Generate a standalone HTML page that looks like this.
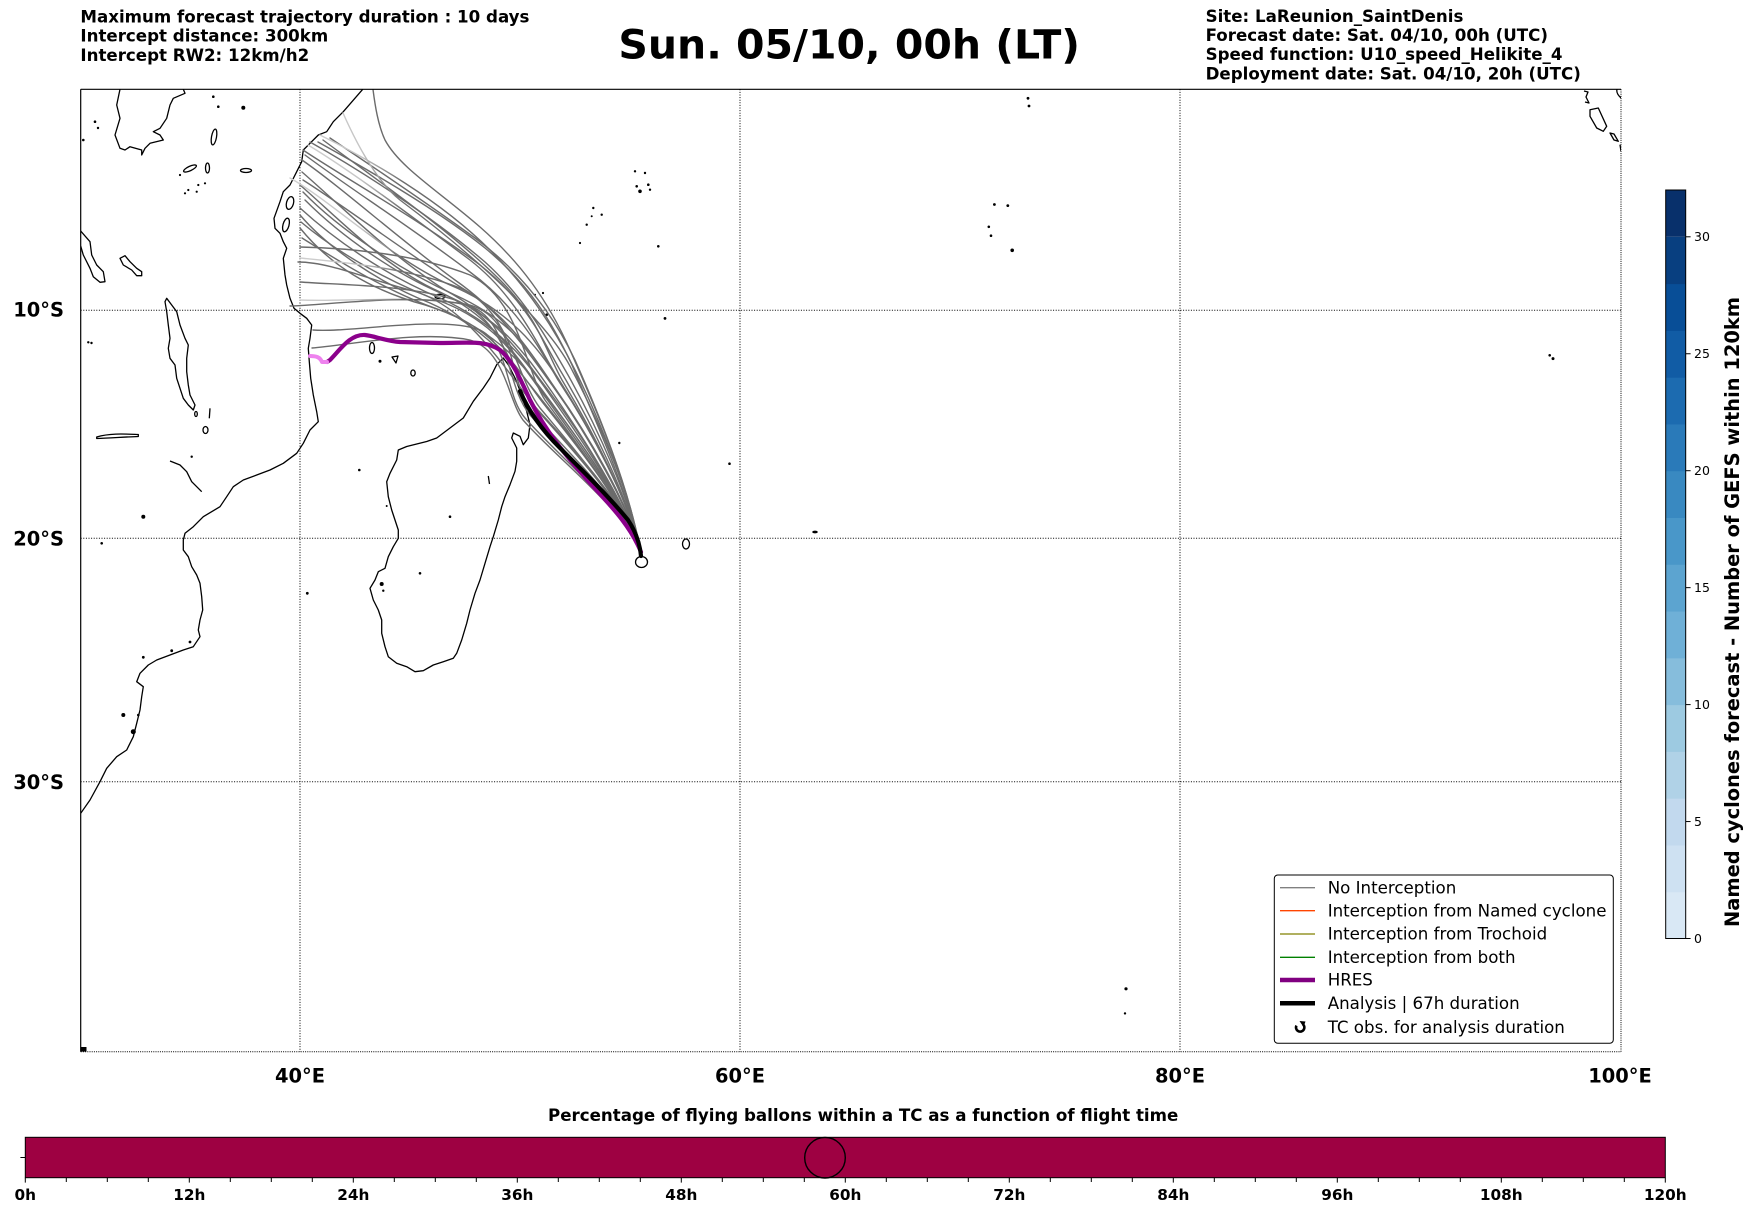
<!DOCTYPE html>
<html>
<head>
<meta charset="utf-8">
<style>
  html, body { margin: 0; padding: 0; background: #ffffff; }
  svg { display: block; }
  text { font-family: "DejaVu Sans", "Liberation Sans", sans-serif; }
</style>
</head>
<body>
<svg width="1752" height="1213" viewBox="0 0 1752 1213" xmlns="http://www.w3.org/2000/svg">
  <defs>
    <linearGradient id="fade" gradientUnits="userSpaceOnUse" x1="300" y1="0" x2="420" y2="0">
      <stop offset="0" stop-color="#cfcfcf"/>
      <stop offset="0.5" stop-color="#c6c6c6"/>
      <stop offset="0.85" stop-color="#6e6e6e"/>
      <stop offset="1" stop-color="#6b6b6b"/>
    </linearGradient>
    <clipPath id="mapclip"><rect x="80.7" y="89.3" width="1540.3" height="962.4"/></clipPath>
  </defs>
  <rect x="0" y="0" width="1752" height="1213" fill="#ffffff"/>

  <!-- Header texts -->
  <g font-weight="bold" font-size="16.67" fill="#000">
    <text x="80.4" y="22.5">Maximum forecast trajectory duration : 10 days</text>
    <text x="80.4" y="41.7">Intercept distance: 300km</text>
    <text x="80.4" y="60.9">Intercept RW2: 12km/h2</text>
    <text x="1205.6" y="21.8">Site: LaReunion_SaintDenis</text>
    <text x="1205.6" y="41.0">Forecast date: Sat. 04/10, 00h (UTC)</text>
    <text x="1205.6" y="60.2">Speed function: U10_speed_Helikite_4</text>
    <text x="1205.6" y="79.4">Deployment date: Sat. 04/10, 20h (UTC)</text>
  </g>
  <text x="849.2" y="58.3" font-weight="bold" font-size="40" text-anchor="middle" textLength="461.7" lengthAdjust="spacingAndGlyphs">Sun. 05/10, 00h (LT)</text>

  <!-- Map -->
  <g clip-path="url(#mapclip)">
    <!-- Gridlines -->
    <g stroke="#000" stroke-width="1" stroke-dasharray="1,1.6" fill="none">
      <line x1="300" y1="89.3" x2="300" y2="1051.7"/>
      <line x1="740" y1="89.3" x2="740" y2="1051.7"/>
      <line x1="1180" y1="89.3" x2="1180" y2="1051.7"/>
      <line x1="80.7" y1="310.3" x2="1621" y2="310.3"/>
      <line x1="80.7" y1="538.3" x2="1621" y2="538.3"/>
      <line x1="80.7" y1="781.7" x2="1621" y2="781.7"/>
    </g>

    <!-- Coastlines -->
    <g stroke="#000" stroke-width="1.3" fill="none" stroke-linejoin="round">
      <!-- Africa -->
      <path d="M362.7,89.3 L343.3,111.7 L333.3,121.7 L326.7,131.7 L318.3,135 L310,143.3 L303.3,150 L301.7,161.7 L296.7,171.7 L290,185 L283.3,191.7 L280,201.7 L274,218.3 L275,228.3 L280,233.3 L283.3,241.7 L286.7,248.3 L283.3,258.3 L285,275 L286.7,285 L290,298.3 L294,308.3 L300,313.3 L306.7,318.3 L311.7,325 L310,338.3 L308.3,348.3 L309.3,361.7 L310.7,378.3 L313.3,395 L316.7,411.7 L318.3,421.7 L310,430 L303.3,443.3 L296.7,453.3 L283.3,463.3 L270,470 L256.7,475 L243.3,480 L233.3,486.7 L226.7,496.7 L220,506.7 L210,512.7 L203.3,516.7 L193.3,526.7 L185,533.3 L183.3,540 L183.3,550 L188.3,556.7 L191.7,566.7 L196.7,575 L200,583.3 L201.7,596.7 L202.7,610 L200,620 L198.3,630 L200,636.7 L193.3,646.7 L183.3,650 L170,655 L156.7,660 L148.3,665 L140,673.3 L136.7,681.7 L143.3,686.7 L141.7,696.7 L140,710 L136.7,723.3 L133.3,736.7 L126.7,750 L116.7,756.7 L106.7,768.3 L100,781.7 L90,800 L80.7,813.3"/>
      <!-- Madagascar -->
      <path d="M503.3,358 L508.3,364.7 L515,378 L521.7,394.7 L526.7,411.3 L530,424.7 L528.3,438 L523.3,444.7 L520,436.3 L513.3,433 L511.7,438 L516.7,448 L516.7,461.3 L515,471.3 L510,484.7 L505,496.7 L501.7,506.7 L498.3,520 L493.3,536.7 L490,546.7 L485,563.3 L480,580 L475,593.3 L470,610 L466.7,623.3 L461.7,640 L456.7,653.3 L453.3,658.3 L443.3,661.7 L433.3,665 L423.3,670.7 L415,671.7 L406.7,666.7 L396.7,663.3 L388.3,656.7 L385,646.7 L381.7,633.3 L381.7,620 L378.3,610 L373.3,600 L370,588.3 L375,580 L378.3,571.7 L385,568.3 L388.3,556.7 L393.3,546.7 L398.3,538.3 L398.3,530 L395,520 L391.7,510 L388.3,496.7 L386.7,481.7 L390,473.3 L396.7,460 L398.3,450 L406.7,446.5 L416.7,444 L426.7,441.5 L436.7,438 L450,428 L463.3,418 L473.3,401.3 L483.3,388 L490,378 L496.7,364.7 Z"/>
      <!-- Lakes -->
      <path d="M120,89.3 L116.7,105 L120,118.3 L115,135 L120,148.3 L125,150 L130,146.7 L141.7,150 L141.7,155 L145,148.3 L150,143.3 L163.3,140 L160,135 L153.3,131.7 L160,128.3 L166.7,118.3 L170,105 L173.3,98.3 L185,93.3 L183.3,89.3"/>
      <path d="M80.7,231 L90,241.7 L91.7,255 L96.7,265 L103.3,271.7 L105,281.7 L100,282.3 L93.3,276.7 L90,268.3 L83.3,255 L80.7,246"/>
      <path d="M120,258.3 L125,255.7 L130,261.7 L136.7,268.3 L141.7,271.7 L141.7,275.7 L136.7,275.7 L131.7,270 L123.3,265 Z"/>
      <path d="M166.7,298.3 L171.7,305 L176.7,311.7 L180,325 L185,338.3 L188.3,345 L186.7,358.3 L186.7,371.7 L188.3,385 L190,395 L195,405 L193.3,410 L188.3,405 L183.3,398.3 L180,388.3 L176.7,378.3 L175,365 L170,358.3 L168.3,348.3 L170,338.3 L168.3,325 L166.7,311.7 L165,301.7 Z"/>
      <path d="M96.7,437 C110,433 125,434 138.3,434.5 L138.3,436.5 C125,437 110,438 96.7,438.5 Z"/>
      <path d="M170,461 L180,465 L186.7,471.7 L191.7,481.7 L201.7,491.7"/>
      <path d="M210,408.3 L209.3,418.3"/>
      <ellipse cx="205.5" cy="430" rx="2.5" ry="3.5"/>
      <ellipse cx="196" cy="414" rx="1.3" ry="2.5"/>
      <ellipse cx="214" cy="137" rx="2.5" ry="8" transform="rotate(10 214 137)"/>
      <ellipse cx="207.5" cy="168" rx="2" ry="5"/>
      <ellipse cx="190" cy="168.5" rx="7" ry="2.2" transform="rotate(-25 190 168.5)"/>
      <ellipse cx="246" cy="170.5" rx="5.5" ry="2"/>
      <!-- Islands (outlined) -->
      <ellipse cx="641.5" cy="562" rx="6" ry="5.5"/>
      <ellipse cx="686" cy="544" rx="3.5" ry="5"/>
      <ellipse cx="372" cy="348" rx="2.5" ry="5.5"/>
      <path d="M392,357 L398,356 L396,363 Z"/>
      <ellipse cx="413" cy="373" rx="2.2" ry="3"/>
      <ellipse cx="440" cy="296.5" rx="5" ry="2.2"/>
      <ellipse cx="290" cy="203" rx="3.5" ry="6.5" transform="rotate(15 290 203)"/>
      <ellipse cx="286" cy="225" rx="3" ry="7" transform="rotate(15 286 225)"/>
      <path d="M1590,109.7 L1598.3,108 L1606.7,126.3 L1603.3,131.3 L1596.7,128 L1590,116.3 Z"/>
      <path d="M1610,133 L1614,134 L1618.3,141.3 L1614,140 Z"/>
      <path d="M1617,89.3 C1616,93 1619,96 1621,98"/>
      <path d="M1620,144.7 L1621,151.3"/>
      <path d="M1584,91 L1588,92 L1586,97 L1589,103 L1585,102"/>
      <path d="M488.3,476 L489.5,484"/>
    </g>

    <!-- Small dot islands -->
    <g fill="#000">
      <circle cx="213.3" cy="96.7" r="1.3"/><circle cx="218.3" cy="106.7" r="1.3"/>
      <circle cx="243.3" cy="107.7" r="2"/><circle cx="95" cy="121.7" r="1.3"/>
      <circle cx="98" cy="128" r="1.2"/><circle cx="83.3" cy="140" r="1.3"/>
      <circle cx="180" cy="175" r="1.1"/><circle cx="185" cy="193.3" r="1.1"/>
      <circle cx="188.3" cy="190" r="1.1"/><circle cx="196.7" cy="191.7" r="1.1"/>
      <circle cx="205" cy="183.3" r="1.1"/><circle cx="198.3" cy="185" r="1.1"/>
      <circle cx="88.3" cy="342.3" r="1.2"/><circle cx="91.5" cy="343" r="1.2"/>
      <circle cx="191.7" cy="456.7" r="1.2"/><circle cx="143.3" cy="516.7" r="2"/>
      <circle cx="101.7" cy="543.3" r="1.3"/><circle cx="143.3" cy="657.3" r="1.4"/>
      <circle cx="171.7" cy="650.7" r="1.4"/><circle cx="190" cy="642" r="1.4"/>
      <circle cx="123.3" cy="715" r="2"/><circle cx="133.3" cy="731.7" r="2.5"/>
      <circle cx="138.3" cy="715" r="1.3"/>
      <circle cx="359.3" cy="470" r="1.3"/><circle cx="386.7" cy="506" r="1"/>
      <circle cx="450" cy="516.7" r="1.3"/><circle cx="420" cy="573.3" r="1.3"/>
      <circle cx="381.7" cy="584" r="2"/><circle cx="383.3" cy="590.7" r="1.2"/>
      <circle cx="307.3" cy="593.3" r="1.4"/><circle cx="619.3" cy="443" r="1.2"/>
      <circle cx="380" cy="361.3" r="1.5"/>
      <circle cx="635" cy="171.3" r="1.2"/><circle cx="645" cy="173" r="1.2"/>
      <circle cx="636.7" cy="186.3" r="1.3"/><circle cx="648.3" cy="184.7" r="1.3"/>
      <circle cx="640" cy="191.3" r="1.8"/><circle cx="650" cy="189.7" r="1.2"/>
      <circle cx="593.3" cy="208" r="1.2"/><circle cx="601.7" cy="214.7" r="1.2"/>
      <circle cx="591.7" cy="216.3" r="1"/><circle cx="586.7" cy="224.7" r="1.2"/>
      <circle cx="580" cy="243" r="1.1"/><circle cx="658.3" cy="246.3" r="1.3"/>
      <circle cx="543" cy="293" r="1.1"/><circle cx="546.7" cy="314.7" r="1.3"/>
      <circle cx="535" cy="294.7" r="1"/>
      <circle cx="665" cy="318.4" r="1.4"/><circle cx="729.5" cy="463.7" r="1.3"/>
      <ellipse cx="815" cy="532" rx="2.8" ry="1.4"/>
      <circle cx="994.4" cy="204.5" r="1.4"/><circle cx="1007.8" cy="205.6" r="1.4"/>
      <circle cx="988.8" cy="226.8" r="1.3"/><circle cx="991" cy="235.7" r="1.3"/>
      <circle cx="1012.2" cy="250.3" r="1.8"/>
      <circle cx="1028" cy="98.3" r="1.4"/><circle cx="1029" cy="106" r="1.4"/>
      <circle cx="1549.7" cy="355.3" r="1.3"/><circle cx="1553" cy="358.6" r="1.5"/>
      <circle cx="1126" cy="988.8" r="1.6"/><circle cx="1125" cy="1013.4" r="1.2"/>
      <rect x="81" y="1047" width="5.5" height="4.7"/>
    </g>

    <!-- Ensemble trajectories -->
    <g fill="none" stroke="#6b6b6b" stroke-width="1.4" stroke-linecap="round">
      <path d="M641,555 C628,480 592,400 570,350 C548,300 520,262 480,227 C440,192 400,168 385,140 C378,125 375,105 373,89.5"/>
      <path d="M641,555 C630,488 595,405 575,360 C555,318 525,275 475,238 C420,198 370,165 330,138"/>
      <path d="M641,555 C630,495 593,415 572,365 C552,322 530,285 485,248 C435,208 365,168 318,142"/>
      <path d="M641,555 C631,500 596,425 568,375 C548,340 525,298 485,262 C430,215 360,170 310,142"/>
      <path d="M641,555 C631,505 592,430 562,380 C545,350 540,320 500,280 C450,230 370,175 323,140"/>
      <path d="M641,555 C630,500 590,420 560,370 C540,335 525,300 480,265 C420,220 340,175 303,150"/>
      <path d="M641,555 C630,502 590,428 558,380 C538,345 515,305 470,272 C415,230 345,185 305,155"/>
      <path d="M641,555 C630,505 585,430 552,385 C530,355 505,315 455,280 C400,240 345,190 302,160"/>
      <path d="M641,555 C629,508 582,435 548,390 C525,360 500,320 445,290 C390,255 340,205 302,172"/>
      <path d="M641,555 C630,507 586,433 553,386 C533,357 512,318 462,288 C405,252 350,210 303,180"/>
      <path d="M641,555 C629,510 580,440 545,395 C520,362 495,318 440,292 C385,268 335,215 300,185"/>
      <path d="M641,555 C630,505 588,435 555,388 C532,355 515,322 455,295 C400,270 340,230 303,192"/>
      <path d="M641,555 C630,510 585,440 552,392 C528,358 505,322 450,297 C395,275 340,235 305,200"/>
      <path d="M641,555 C629,508 582,440 550,395 C528,363 500,325 440,298 C385,275 335,240 300,208"/>
      <path d="M641,555 C629,512 578,445 542,400 C518,370 490,330 430,303 C380,283 330,250 300,215"/>
      <path d="M641,555 C629,510 580,445 546,398 C522,366 500,325 445,303 C395,285 340,255 301,222"/>
      <path d="M641,555 C630,510 583,445 548,398 C522,362 490,325 425,305 C370,290 330,265 300,228"/>
      <path d="M641,555 C629,510 578,447 543,403 C520,373 495,328 440,310 C390,293 340,262 302,238"/>
      <path d="M641,555 C629,512 578,445 545,400 C525,370 520,300 470,275 C420,255 350,248 300,247"/>
      <path d="M641,555 C630,510 575,450 538,410 C510,378 470,305 410,290 C370,280 330,262 298,262"/>
      <path d="M641,555 C630,512 573,450 537,410 C512,380 505,318 455,300 C410,285 340,285 300,282"/>
      <path d="M641,555 C628,510 565,455 530,415 C505,385 510,320 470,306 C420,292 330,305 290,306"/>
      <path d="M641,555 C628,512 560,458 525,418 C505,395 510,345 480,330 C440,315 350,333 313,330"/>
      <path d="M641,555 C628,512 558,460 523,420 C508,400 505,350 470,340 C420,330 350,345 312,348"/>
    </g>
    <g fill="none" stroke="url(#fade)" stroke-width="1.4" stroke-linecap="round">
      <path d="M641,555 C632,500 600,420 575,370 C555,330 530,290 490,250 C440,200 370,160 320,135"/>
      <path d="M641,555 C632,495 598,420 572,370 C550,325 480,260 400,200 C375,180 355,140 343,113"/>
      <path d="M641,555 C630,500 588,425 556,375 C535,340 515,295 470,260 C410,215 350,170 308,145"/>
      <path d="M641,555 C631,503 590,430 560,382 C540,350 510,310 450,285 C390,258 330,200 290,178"/>
      <path d="M641,555 C629,512 575,450 540,408 C515,375 510,310 460,288 C410,268 340,262 300,258"/>
      <path d="M641,555 C630,510 570,455 535,415 C505,380 520,320 470,305 C420,295 340,302 300,300"/>
    </g>

    <!-- HRES -->
    <path d="M641,552 C630,525 610,505 590,483 C565,455 545,430 530,400 C520,378 512,360 500,350 C485,340 470,343 440,343 L400,342 C385,341 375,336 365,335 C350,334 340,350 330,360 L327,362" fill="none" stroke="#8b008b" stroke-width="4.2" stroke-linecap="round" stroke-linejoin="round"/>
    <path d="M327,362 L322,362 C320,357 316,356 310,356" fill="none" stroke="#ee82ee" stroke-width="4" stroke-linecap="round" stroke-linejoin="round"/>
    <!-- Analysis -->
    <path d="M520,391 C528,410 540,428 560,448 C585,473 610,498 628,520 C636,532 640,545 641,556" fill="none" stroke="#000" stroke-width="4.2" stroke-linecap="round"/>
  </g>

  <!-- Map frame -->
  <line x1="80.7" y1="89.3" x2="1621" y2="89.3" stroke="#000" stroke-width="1.2"/>
  <line x1="80.7" y1="89.3" x2="80.7" y2="1051.7" stroke="#000" stroke-width="1.2"/>
  <g stroke="#000" stroke-width="1" stroke-dasharray="1,1.2">
    <line x1="1621" y1="89.3" x2="1621" y2="1051.7"/>
    <line x1="80.7" y1="1051.7" x2="1621" y2="1051.7"/>
  </g>

  <!-- Axis labels -->
  <g font-weight="bold" font-size="19.44" fill="#000">
    <text x="64" y="316.6" text-anchor="end">10°S</text>
    <text x="64" y="545.4" text-anchor="end">20°S</text>
    <text x="64" y="788.8" text-anchor="end">30°S</text>
    <text x="300" y="1082.7" text-anchor="middle">40°E</text>
    <text x="740" y="1082.7" text-anchor="middle">60°E</text>
    <text x="1180" y="1082.7" text-anchor="middle">80°E</text>
    <text x="1620" y="1082.7" text-anchor="middle">100°E</text>
  </g>

  <!-- Legend -->
  <rect x="1274.3" y="875" width="339" height="168.3" rx="3.5" ry="3.5" fill="#fff" stroke="#000" stroke-width="1"/>
  <g stroke-linecap="butt">
    <line x1="1280" y1="887.7" x2="1315" y2="887.7" stroke="#808080" stroke-width="1.3"/>
    <line x1="1280" y1="910.7" x2="1315" y2="910.7" stroke="#ff4500" stroke-width="1.3"/>
    <line x1="1280" y1="934" x2="1315" y2="934" stroke="#808000" stroke-width="1.3"/>
    <line x1="1280" y1="957.3" x2="1315" y2="957.3" stroke="#008000" stroke-width="1.3"/>
    <line x1="1280" y1="980" x2="1315" y2="980" stroke="#800080" stroke-width="4.5"/>
    <line x1="1280" y1="1003.3" x2="1315" y2="1003.3" stroke="#000" stroke-width="4.5"/>
  </g>
  <path d="M1303,1024.3 A4.2,4.2 0 1 1 1296.4,1025.6" fill="none" stroke="#000" stroke-width="2.6"/>
  <path d="M1299.5,1021 L1305.5,1021.5 L1303.5,1027 Z" fill="#000"/>
  <g font-size="16.67" fill="#000">
    <text x="1327.7" y="893.4">No Interception</text>
    <text x="1327.7" y="916.4">Interception from Named cyclone</text>
    <text x="1327.7" y="939.7">Interception from Trochoid</text>
    <text x="1327.7" y="963">Interception from both</text>
    <text x="1327.7" y="985.7">HRES</text>
    <text x="1327.7" y="1009">Analysis | 67h duration</text>
    <text x="1327.7" y="1033">TC obs. for analysis duration</text>
  </g>

  <!-- Colorbar -->
  <g>
    <rect x="1665.7" y="891.72" width="20" height="47.3" fill="#d9e8f5"/>
    <rect x="1665.7" y="844.94" width="20" height="47.3" fill="#cee1f2"/>
    <rect x="1665.7" y="798.16" width="20" height="47.3" fill="#c2d9ee"/>
    <rect x="1665.7" y="751.38" width="20" height="47.3" fill="#b0d2e7"/>
    <rect x="1665.7" y="704.6" width="20" height="47.3" fill="#9dcae1"/>
    <rect x="1665.7" y="657.82" width="20" height="47.3" fill="#86bddc"/>
    <rect x="1665.7" y="611.04" width="20" height="47.3" fill="#6fb0d7"/>
    <rect x="1665.7" y="564.26" width="20" height="47.3" fill="#5ca4d0"/>
    <rect x="1665.7" y="517.48" width="20" height="47.3" fill="#4997c9"/>
    <rect x="1665.7" y="470.7" width="20" height="47.3" fill="#3989c1"/>
    <rect x="1665.7" y="423.92" width="20" height="47.3" fill="#2a7ab9"/>
    <rect x="1665.7" y="377.14" width="20" height="47.3" fill="#1c6bb0"/>
    <rect x="1665.7" y="330.36" width="20" height="47.3" fill="#115ca5"/>
    <rect x="1665.7" y="283.58" width="20" height="47.3" fill="#084e97"/>
    <rect x="1665.7" y="236.8" width="20" height="47.3" fill="#083f80"/>
    <rect x="1665.7" y="190" width="20" height="46.8" fill="#08306b"/>
    <rect x="1665.7" y="190" width="20" height="748.5" fill="none" stroke="#000" stroke-width="1"/>
  </g>
  <g stroke="#000" stroke-width="1">
    <line x1="1685.7" y1="938.5" x2="1690.6" y2="938.5"/>
    <line x1="1685.7" y1="821.55" x2="1690.6" y2="821.55"/>
    <line x1="1685.7" y1="704.6" x2="1690.6" y2="704.6"/>
    <line x1="1685.7" y1="587.65" x2="1690.6" y2="587.65"/>
    <line x1="1685.7" y1="470.7" x2="1690.6" y2="470.7"/>
    <line x1="1685.7" y1="353.75" x2="1690.6" y2="353.75"/>
    <line x1="1685.7" y1="236.8" x2="1690.6" y2="236.8"/>
  </g>
  <g font-size="12.5" fill="#000">
    <text x="1694" y="943">0</text>
    <text x="1694" y="826">5</text>
    <text x="1694" y="709">10</text>
    <text x="1694" y="592">15</text>
    <text x="1694" y="475">20</text>
    <text x="1694" y="358">25</text>
    <text x="1694" y="241">30</text>
  </g>
  <text transform="translate(1739,612) rotate(-90)" text-anchor="middle" font-weight="bold" font-size="19.44" fill="#000" textLength="630" lengthAdjust="spacingAndGlyphs">Named cyclones forecast - Number of GEFS within 120km</text>

  <!-- Bottom bar -->
  <text x="1178.3" y="1121" text-anchor="end" font-weight="bold" font-size="16.67" fill="#000">Percentage of flying ballons within a TC as a function of flight time</text>
  <rect x="25.3" y="1137.3" width="1640" height="40.4" fill="#9e0142" stroke="#000" stroke-width="1"/>
  <circle cx="825" cy="1157.7" r="20.3" fill="none" stroke="#000" stroke-width="1.4"/>
  <line x1="20.4" y1="1157.5" x2="25.3" y2="1157.5" stroke="#000" stroke-width="1"/>
  <g stroke="#000" stroke-width="1">
    <line x1="25.3" y1="1177.7" x2="25.3" y2="1182.6"/>
    <line x1="189.3" y1="1177.7" x2="189.3" y2="1182.6"/>
    <line x1="353.3" y1="1177.7" x2="353.3" y2="1182.6"/>
    <line x1="517.3" y1="1177.7" x2="517.3" y2="1182.6"/>
    <line x1="681.3" y1="1177.7" x2="681.3" y2="1182.6"/>
    <line x1="845.3" y1="1177.7" x2="845.3" y2="1182.6"/>
    <line x1="1009.3" y1="1177.7" x2="1009.3" y2="1182.6"/>
    <line x1="1173.3" y1="1177.7" x2="1173.3" y2="1182.6"/>
    <line x1="1337.3" y1="1177.7" x2="1337.3" y2="1182.6"/>
    <line x1="1501.3" y1="1177.7" x2="1501.3" y2="1182.6"/>
    <line x1="1665.3" y1="1177.7" x2="1665.3" y2="1182.6"/>
    <line x1="66.3" y1="1177.7" x2="66.3" y2="1182"/><line x1="107.3" y1="1177.7" x2="107.3" y2="1182"/><line x1="148.3" y1="1177.7" x2="148.3" y2="1182"/>
    <line x1="230.3" y1="1177.7" x2="230.3" y2="1182"/><line x1="271.3" y1="1177.7" x2="271.3" y2="1182"/><line x1="312.3" y1="1177.7" x2="312.3" y2="1182"/>
    <line x1="394.3" y1="1177.7" x2="394.3" y2="1182"/><line x1="435.3" y1="1177.7" x2="435.3" y2="1182"/><line x1="476.3" y1="1177.7" x2="476.3" y2="1182"/>
    <line x1="558.3" y1="1177.7" x2="558.3" y2="1182"/><line x1="599.3" y1="1177.7" x2="599.3" y2="1182"/><line x1="640.3" y1="1177.7" x2="640.3" y2="1182"/>
    <line x1="722.3" y1="1177.7" x2="722.3" y2="1182"/><line x1="763.3" y1="1177.7" x2="763.3" y2="1182"/><line x1="804.3" y1="1177.7" x2="804.3" y2="1182"/>
    <line x1="886.3" y1="1177.7" x2="886.3" y2="1182"/><line x1="927.3" y1="1177.7" x2="927.3" y2="1182"/><line x1="968.3" y1="1177.7" x2="968.3" y2="1182"/>
    <line x1="1050.3" y1="1177.7" x2="1050.3" y2="1182"/><line x1="1091.3" y1="1177.7" x2="1091.3" y2="1182"/><line x1="1132.3" y1="1177.7" x2="1132.3" y2="1182"/>
    <line x1="1214.3" y1="1177.7" x2="1214.3" y2="1182"/><line x1="1255.3" y1="1177.7" x2="1255.3" y2="1182"/><line x1="1296.3" y1="1177.7" x2="1296.3" y2="1182"/>
    <line x1="1378.3" y1="1177.7" x2="1378.3" y2="1182"/><line x1="1419.3" y1="1177.7" x2="1419.3" y2="1182"/><line x1="1460.3" y1="1177.7" x2="1460.3" y2="1182"/>
    <line x1="1542.3" y1="1177.7" x2="1542.3" y2="1182"/><line x1="1583.3" y1="1177.7" x2="1583.3" y2="1182"/><line x1="1624.3" y1="1177.7" x2="1624.3" y2="1182"/>
  </g>
  <g font-weight="bold" font-size="15.3" fill="#000" text-anchor="middle">
    <text x="25.3" y="1200">0h</text>
    <text x="189.3" y="1200">12h</text>
    <text x="353.3" y="1200">24h</text>
    <text x="517.3" y="1200">36h</text>
    <text x="681.3" y="1200">48h</text>
    <text x="845.3" y="1200">60h</text>
    <text x="1009.3" y="1200">72h</text>
    <text x="1173.3" y="1200">84h</text>
    <text x="1337.3" y="1200">96h</text>
    <text x="1501.3" y="1200">108h</text>
    <text x="1665.3" y="1200">120h</text>
  </g>
</svg>
</body>
</html>
